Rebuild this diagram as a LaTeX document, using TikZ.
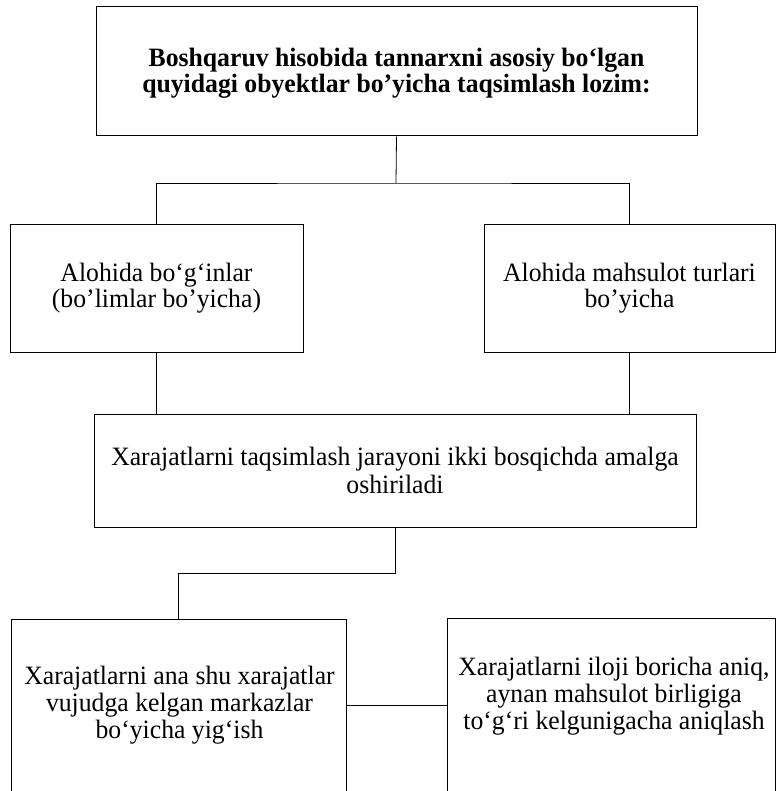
\documentclass[tikz,border=0pt]{standalone}
\usepackage{fontspec}
\setmainfont{Liberation Serif}[FakeStretch=0.97]
\usetikzlibrary{positioning}

\begin{document}
\begin{tikzpicture}[x=1pt,y=-1pt,
    box/.style={draw,line width=0.8pt,rectangle,inner sep=0pt},
    txt/.style={align=center,inner sep=0pt,font={\fontsize{26.5}{28}\selectfont}},
    link/.style={line width=0.8pt}]
\useasboundingbox (0,0) rectangle (777,791);
\clip (0,0) rectangle (777,791);

\node[box,txt,minimum width=601,minimum height=129,line width=1pt,
    font={\fontsize{26.5}{25.3}\selectfont\bfseries}] (top) at (396.5,71.5)
    {\raisebox{-8.5pt}[0pt][0pt]{\begin{tabular}{@{}c@{}}Boshqaruv hisobida tannarxni asosiy bo‘lgan\\quyidagi obyektlar bo’yicha taqsimlash lozim:\end{tabular}}};

\node[box,txt,minimum width=293,minimum height=128,font={\fontsize{26.5}{25.7}\selectfont}] (left) at (156.5,288)
    {Alohida bo‘g‘inlar\\(bo’limlar bo’yicha)};
\node[box,txt,minimum width=291,minimum height=128,font={\fontsize{26.5}{25.7}\selectfont}] (right) at (629.5,288)
    {Alohida mahsulot turlari\\bo’yicha};

\node[box,txt,minimum width=602,minimum height=113] (mid) at (395,470.5)
    {Xarajatlarni taqsimlash jarayoni ikki bosqichda amalga\\oshiriladi};

% bottom boxes run past the lower edge
\node[box,anchor=north,minimum width=335,minimum height=200] (bl) at (178.5,619) {};
\node[box,anchor=north,minimum width=328,minimum height=200] (br) at (611,618) {};
\node[txt,font={\fontsize{26.5}{27.3}\selectfont}] (bltext) at (179.5,705) {Xarajatlarni ana shu xarajatlar\\vujudga kelgan markazlar\\bo‘yicha yig‘ish};
\node[txt,font={\fontsize{26.5}{27.3}\selectfont}] (brtext) at (614,696) {Xarajatlarni iloji boricha aniq,\\aynan mahsulot birligiga\\to‘g‘ri kelgunigacha aniqlash};

\coordinate (j1) at (396,183);
\coordinate (j2) at (395,573);

\draw[link] (top.south) -- (j1);
\draw[link] (left.north) |- (j1) -| (right.north);
\draw[link] (left.south) -- (left.south |- mid.north);
\draw[link] (right.south) -- (right.south |- mid.north);
\draw[link] (mid.south) -- (j2) -| (bl.north);
\draw[link] (bl.east |- bltext.center) -- (br.west |- bltext.center);

\end{tikzpicture}
\end{document}
